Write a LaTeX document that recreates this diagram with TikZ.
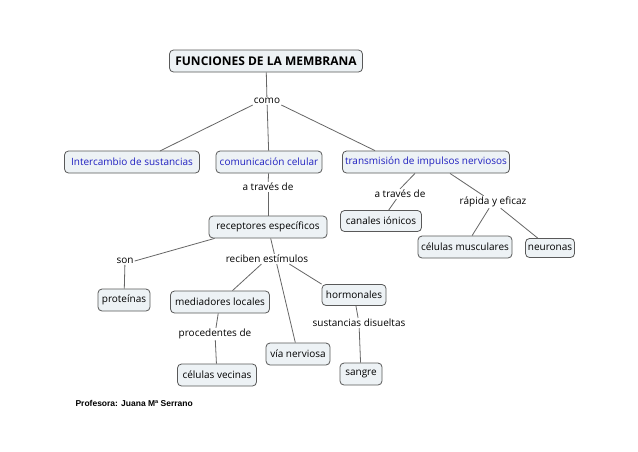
\documentclass[tikz,border=0pt]{standalone}
\usepackage{fontspec}
\setmainfont{Open Sans}
\newfontfamily\arialfont{Liberation Sans}
\begin{document}
\begin{tikzpicture}[x=1pt,y=-1pt,
  concept/.style={draw=black!65, line width=0.8pt, rounded corners=4pt, fill=boxfill,
    inner sep=0pt, font=\fontsize{10}{11}\selectfont, text=black},
  bluec/.style={concept, text=conceptblue},
  phrase/.style={fill=white, inner sep=1pt, font=\fontsize{10}{11}\selectfont, text=black},
  link/.style={draw=black!60, line width=0.8pt}]
\definecolor{boxfill}{HTML}{EDF2F5}
\definecolor{conceptblue}{HTML}{2020C0}
\useasboundingbox (0,0) rectangle (638,451);
\fill[white] (0,0) rectangle (638,451);
% concepts
\node[concept, minimum width=193pt, minimum height=22pt, font=\bfseries\fontsize{12}{13}\selectfont] (title) at (266,61) {FUNCIONES DE LA MEMBRANA};
\node[bluec, minimum width=135pt, minimum height=22pt] (inter) at (132,162) {Intercambio de sustancias};
\node[bluec, minimum width=106pt, minimum height=22pt] (comu) at (269,162) {comunicación celular};
\node[bluec, minimum width=167pt, minimum height=22pt] (trans) at (426,162) {transmisión de impulsos nerviosos};
\node[concept, minimum width=118pt, minimum height=22pt] (rec) at (268,227) {receptores específicos};
\node[concept, minimum width=52pt, minimum height=22pt] (prot) at (124,300) {proteínas};
\node[concept, minimum width=99pt, minimum height=22pt] (med) at (220,302) {mediadores locales};
\node[concept, minimum width=64pt, minimum height=21pt] (horm) at (354,295) {hormonales};
\node[concept, minimum width=64pt, minimum height=22pt] (via) at (298,354) {vía nerviosa};
\node[concept, minimum width=79pt, minimum height=22pt] (vec) at (217,375) {células vecinas};
\node[concept, minimum width=42pt, minimum height=22pt] (sang) at (361,374) {sangre};
\node[concept, minimum width=81pt, minimum height=21pt] (can) at (381,221) {canales iónicos};
\node[concept, minimum width=94pt, minimum height=22pt] (musc) at (465,247) {células musculares};
\node[concept, minimum width=49pt, minimum height=19pt] (neur) at (550,248) {neuronas};
% line passing behind the linking phrase
\path[link] (rec) -- (via);
% linking phrases
\node[phrase] (como) at (267,101) {como};
\node[phrase] (atr1) at (268,187) {a través de};
\node[phrase] (son) at (125,261) {son};
\node[phrase] (rest) at (267,259) {reciben estímulos};
\node[phrase] (proc) at (215,334) {procedentes de};
\node[phrase] (sust) at (359,323) {sustancias disueltas};
\node[phrase] (atr2) at (400,194) {a través de};
\node[phrase] (rap) at (493,202) {rápida y eficaz};
% connectors
\draw[link] (title) -- (como);
\draw[link] (como.south west) -- (160,151) coordinate (c1);
\draw[link] (como) -- (comu);
\draw[link] (como.south east) -- (trans.north west -| 375,0);
\draw[link] (comu) -- (atr1);
\draw[link] (atr1) -- (rec);
\draw[link] (rec.south west) ++(6,0) -- (son.east);
\draw[link] (son) -- (prot);
\draw[link] (rest) -- (med);
\draw[link] (rest.south east) ++(-20,0) -- (horm.north west);
\draw[link] (med) -- (proc);
\draw[link] (proc) -- (vec);
\draw[link] (horm) -- (sust);
\draw[link] (sust) -- (sang);
\draw[link] (trans.south) ++(-11,0) -- (atr2.north);
\draw[link] (atr2) -- (can);
\draw[link] (trans.south) ++(24,0) -- (rap);
\draw[link] (rap) -- (musc);
\draw[link] (rap) -- (neur);
\node[anchor=west, font=\arialfont\bfseries\fontsize{8.5}{10}\selectfont] (prof) at (72,403) {Profesora: Juana Mª Serrano};
\end{tikzpicture}
\end{document}
